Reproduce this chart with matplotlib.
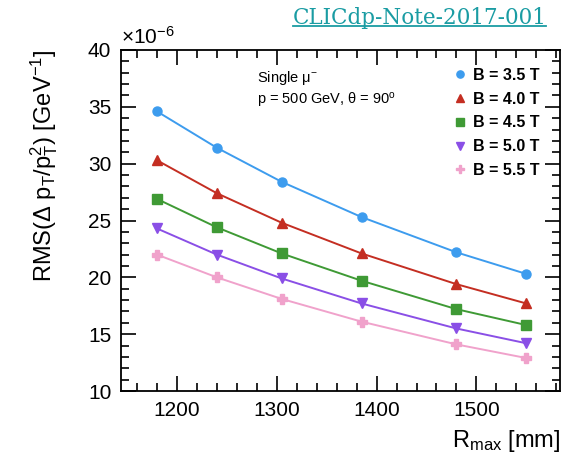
import matplotlib
matplotlib.use("Agg")
import matplotlib.pyplot as plt
from matplotlib.ticker import MultipleLocator

plt.rcParams['font.family'] = ['Liberation Sans', 'DejaVu Sans']
plt.rcParams['mathtext.fontset'] = 'custom'
plt.rcParams['mathtext.rm'] = 'Liberation Sans'
plt.rcParams['mathtext.it'] = 'Liberation Sans:italic'
plt.rcParams['mathtext.bf'] = 'Liberation Sans:bold'

# R_max in mm, resolution in units of 1e-6 GeV^-1
rmax = [1180, 1240, 1305, 1385, 1480, 1550]
b35 = [34.6, 31.4, 28.4, 25.3, 22.2, 20.3]
b40 = [30.3, 27.4, 24.8, 22.1, 19.4, 17.7]
b45 = [26.9, 24.4, 22.1, 19.7, 17.2, 15.8]
b50 = [24.3, 22.0, 19.9, 17.7, 15.5, 14.2]
b55 = [22.0, 20.0, 18.1, 16.1, 14.1, 12.9]
labels = ["B = 3.5 T", "B = 4.0 T", "B = 4.5 T", "B = 5.0 T", "B = 5.5 T"]

series = [b35, b40, b45, b50, b55]
colors = ["#3d9cee", "#c42e22", "#3f9a35", "#8a4fe6", "#f0a2cb"]
markers = ["o", "^", "s", "v", "P"]

fig = plt.figure(figsize=(5.72, 4.57), dpi=100)
ax = fig.add_axes([0.2115, 0.1444, 0.768, 0.7462])

handles = []
for ys, c, m, lab in zip(series, colors, markers, labels):
    ax.plot(rmax, ys, color=c, lw=1.4)
    h = ax.plot(rmax, ys, ls="none", marker=m, ms=6.5, color=c, mec=c, label=lab)[0]
    handles.append(h)

ax.set_xlim(1144, 1584)
ax.set_ylim(10, 40)
ax.xaxis.set_major_locator(MultipleLocator(100))
ax.xaxis.set_minor_locator(MultipleLocator(20))
ax.yaxis.set_major_locator(MultipleLocator(5))
ax.yaxis.set_minor_locator(MultipleLocator(1))
ax.tick_params(which="both", direction="in", top=True, right=True, width=1.2)
ax.tick_params(which="major", length=11, labelsize=15, pad=7)
ax.tick_params(which="minor", length=5.5)
for s in ax.spines.values():
    s.set_linewidth(1.3)

ax.text(0.0, 1.005, r"$\times$10$^{-6}$", transform=ax.transAxes, fontsize=15,
        ha="left", va="bottom")

ax.set_ylabel(r"RMS($\Delta$ p$_{\mathrm{T}}$/p$_{\mathrm{T}}^{2}$) [GeV$^{-1}$]",
              fontsize=17, loc="top", labelpad=20)
ax.set_xlabel(r"R$_{\mathrm{max}}$ [mm]", fontsize=17, loc="right", labelpad=6)

ax.text(0.31, 0.918, r"Single $\mathrm{\mu}^{-}$", transform=ax.transAxes,
        fontsize=10.5, ha="left", va="center")
ax.text(0.31, 0.853, r"p = 500 GeV, $\mathrm{\theta}$ = 90$^{\mathrm{o}}$",
        transform=ax.transAxes, fontsize=10.5, ha="left", va="center")

leg = ax.legend(handles=handles, loc="upper right", bbox_to_anchor=(0.985, 0.99),
                frameon=False, handlelength=0.6, handletextpad=0.5,
                labelspacing=0.55, markerscale=0.8,
                prop={"weight": "bold", "size": 11.5})

fig.text(0.955, 0.985, "CLICdp-Note-2017-001", color="#1a9ca3",
         fontsize=15.5, family="DejaVu Serif", ha="right", va="top")
line_y = 1 - 26 / 457
fig.add_artist(plt.Line2D([293 / 572, 546 / 572], [line_y, line_y], color="#1a9ca3",
                          lw=1.3, transform=fig.transFigure))

fig.savefig("out.png", dpi=100)
